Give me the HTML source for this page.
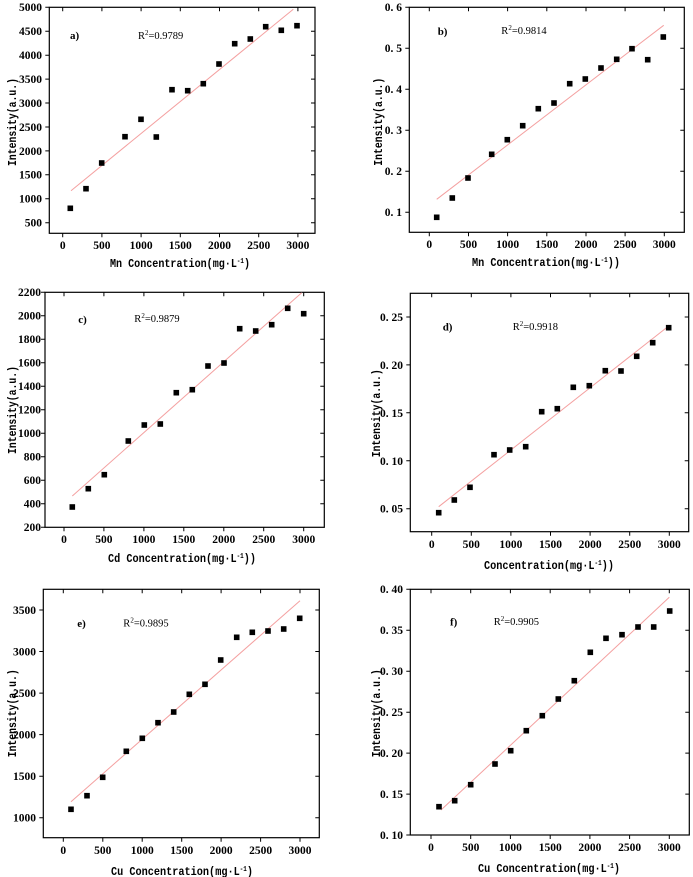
<!DOCTYPE html>
<html><head><meta charset="utf-8"><style>
html,body{margin:0;padding:0;background:#fff}
svg{display:block}
.t{font-family:"Liberation Serif",serif;font-weight:bold;font-size:11.5px;fill:#000;white-space:pre}
.ti{font-family:"Liberation Mono","Noto Sans CJK SC",monospace;font-size:12px;font-weight:bold;fill:#000}
.r{font-family:"Liberation Serif",serif;font-size:10.5px;fill:#000}
.lb{font-family:"Liberation Serif",serif;font-weight:bold;font-size:11px;fill:#000}
.bx{fill:none;stroke:#000;stroke-width:1.2}
.tk{stroke:#000;stroke-width:1}
.fl{stroke:#f4a0a0;stroke-width:1}
</style></head><body>
<svg width="693" height="877" viewBox="0 0 693 877" xmlns="http://www.w3.org/2000/svg">
<defs><rect id="s" x="-2.8" y="-2.8" width="5.6" height="5.6" fill="#000"/></defs>

<!-- Panel a -->
<rect class="bx" x="49.3" y="7.3" width="265.7" height="226"/>
<path class="tk" d="M45.3 7.3H49.3M45.3 31.3H49.3M45.3 55.2H49.3M45.3 79.1H49.3M45.3 103H49.3M45.3 127H49.3M45.3 150.9H49.3M45.3 174.8H49.3M45.3 198.8H49.3M45.3 222.7H49.3
M311 31.3H315M311 55.2H315M311 79.1H315M311 103H315M311 127H315M311 150.9H315M311 174.8H315M311 198.8H315M311 222.7H315
M62.7 233.3V237.3M101.9 233.3V237.3M141.1 233.3V237.3M180.3 233.3V237.3M219.5 233.3V237.3M258.7 233.3V237.3M297.9 233.3V237.3
M62.7 7.3V11.3M101.9 7.3V11.3M141.1 7.3V11.3M180.3 7.3V11.3M219.5 7.3V11.3M258.7 7.3V11.3M297.9 7.3V11.3"/>
<g class="t" text-anchor="end"><text x="42" y="11">5000</text><text x="42" y="35">4500</text><text x="42" y="59">4000</text><text x="42" y="83">3500</text><text x="42" y="107">3000</text><text x="42" y="131">2500</text><text x="42" y="155">2000</text><text x="42" y="178.5">1500</text><text x="42" y="202.5">1000</text><text x="42" y="226.5">500</text></g>
<g class="t" text-anchor="middle"><text x="62.7" y="249">0</text><text x="101.9" y="249">500</text><text x="141.1" y="249">1000</text><text x="180.3" y="249">1500</text><text x="219.5" y="249">2000</text><text x="258.7" y="249">2500</text><text x="297.9" y="249">3000</text></g>
<line class="fl" x1="71" y1="190.7" x2="293.3" y2="9.3"/>
<g><use href="#s" x="70.3" y="208.3"/><use href="#s" x="86" y="188.7"/><use href="#s" x="101.7" y="163"/><use href="#s" x="125" y="136.7"/><use href="#s" x="141" y="119.3"/><use href="#s" x="156.3" y="137"/><use href="#s" x="172" y="89.7"/><use href="#s" x="187.7" y="90.7"/><use href="#s" x="203.3" y="83.7"/><use href="#s" x="219" y="64"/><use href="#s" x="234.7" y="43.7"/><use href="#s" x="250.3" y="39"/><use href="#s" x="265.7" y="26.7"/><use href="#s" x="281.3" y="30.3"/><use href="#s" x="297" y="25.7"/></g>
<text class="lb" x="70" y="39">a)</text>
<text class="r" x="138" y="39">R<tspan dy="-4" font-size="7">2</tspan><tspan dy="4">=0.9789</tspan></text>
<text class="ti" x="110" y="267" textLength="140" lengthAdjust="spacingAndGlyphs">Mn Concentration(mg·L<tspan dy="-4" font-size="7">-1</tspan><tspan dy="4">)</tspan></text>
<text class="ti" transform="translate(16,122) rotate(-90)" text-anchor="middle" textLength="88" lengthAdjust="spacingAndGlyphs">Intensity(a.u.)</text>

<!-- Panel b -->
<rect class="bx" x="409.3" y="7.3" width="275" height="225"/>
<path class="tk" d="M405.3 7.3H409.3M405.3 48.3H409.3M405.3 89.3H409.3M405.3 130.3H409.3M405.3 171.3H409.3M405.3 212.3H409.3
M680.3 48.3H684.3M680.3 89.3H684.3M680.3 130.3H684.3M680.3 171.3H684.3M680.3 212.3H684.3
M429.3 232.3V236.3M468.5 232.3V236.3M507.6 232.3V236.3M546.8 232.3V236.3M586 232.3V236.3M625.1 232.3V236.3M664.3 232.3V236.3
M429.3 7.3V11.3M468.5 7.3V11.3M507.6 7.3V11.3M546.8 7.3V11.3M586 7.3V11.3M625.1 7.3V11.3M664.3 7.3V11.3"/>
<g class="t" text-anchor="end"><text x="402" y="11">0. 6</text><text x="402" y="52">0. 5</text><text x="402" y="93">0. 4</text><text x="402" y="134">0. 3</text><text x="402" y="175">0. 2</text><text x="402" y="216">0. 1</text></g>
<g class="t" text-anchor="middle"><text x="429.3" y="248">0</text><text x="468.5" y="248">500</text><text x="507.6" y="248">1000</text><text x="546.8" y="248">1500</text><text x="586" y="248">2000</text><text x="625.1" y="248">2500</text><text x="664.3" y="248">3000</text></g>
<line class="fl" x1="436.7" y1="199.3" x2="663.7" y2="25.3"/>
<g><use href="#s" x="436.7" y="217.3"/><use href="#s" x="452.3" y="198"/><use href="#s" x="468" y="178"/><use href="#s" x="491.7" y="154.3"/><use href="#s" x="507.3" y="139.7"/><use href="#s" x="522.7" y="125.7"/><use href="#s" x="538.3" y="108.7"/><use href="#s" x="554" y="103"/><use href="#s" x="569.7" y="83.7"/><use href="#s" x="585.3" y="79"/><use href="#s" x="601" y="68"/><use href="#s" x="616.7" y="59.3"/><use href="#s" x="632" y="48.7"/><use href="#s" x="647.7" y="59.7"/><use href="#s" x="663.3" y="37"/></g>
<text class="lb" x="437.7" y="35">b)</text>
<text class="r" x="501.3" y="34">R<tspan dy="-4" font-size="7">2</tspan><tspan dy="4">=0.9814</tspan></text>
<text class="ti" x="472" y="266" textLength="148" lengthAdjust="spacingAndGlyphs">Mn Concentration(mg·L<tspan dy="-4" font-size="7">-1</tspan><tspan dy="4">))</tspan></text>
<text class="ti" transform="translate(382,121.7) rotate(-90)" text-anchor="middle" textLength="88" lengthAdjust="spacingAndGlyphs">Intensity(a.u.)</text>

<!-- Panel c -->
<rect class="bx" x="45" y="292.3" width="279.3" height="235"/>
<path class="tk" d="M41 292.3H45M41 315.8H45M41 339.3H45M41 362.8H45M41 386.3H45M41 409.8H45M41 433.3H45M41 456.8H45M41 480.3H45M41 503.8H45M41 527.3H45
M320.3 315.8H324.3M320.3 339.3H324.3M320.3 362.8H324.3M320.3 386.3H324.3M320.3 409.8H324.3M320.3 433.3H324.3M320.3 456.8H324.3M320.3 480.3H324.3M320.3 503.8H324.3
M64 527.3V531.3M103.9 527.3V531.3M143.9 527.3V531.3M183.8 527.3V531.3M223.8 527.3V531.3M263.7 527.3V531.3M303.7 527.3V531.3
M64 292.3V296.3M103.9 292.3V296.3M143.9 292.3V296.3M183.8 292.3V296.3M223.8 292.3V296.3M263.7 292.3V296.3M303.7 292.3V296.3"/>
<g class="t" text-anchor="end"><text x="41" y="296">2200</text><text x="41" y="319.5">2000</text><text x="41" y="343">1800</text><text x="41" y="366.5">1600</text><text x="41" y="390">1400</text><text x="41" y="413.5">1200</text><text x="41" y="437">1000</text><text x="41" y="460.5">800</text><text x="41" y="484">600</text><text x="41" y="507.5">400</text><text x="41" y="531">200</text></g>
<g class="t" text-anchor="middle"><text x="64" y="543">0</text><text x="103.9" y="543">500</text><text x="143.9" y="543">1000</text><text x="183.8" y="543">1500</text><text x="223.8" y="543">2000</text><text x="263.7" y="543">2500</text><text x="303.7" y="543">3000</text></g>
<line class="fl" x1="72.3" y1="496" x2="301.7" y2="292.7"/>
<g><use href="#s" x="72.3" y="507"/><use href="#s" x="88.3" y="488.7"/><use href="#s" x="104.3" y="474.7"/><use href="#s" x="128.3" y="441"/><use href="#s" x="144.3" y="425"/><use href="#s" x="160.3" y="424"/><use href="#s" x="176.3" y="392.7"/><use href="#s" x="192.3" y="389.7"/><use href="#s" x="208" y="366"/><use href="#s" x="224" y="363"/><use href="#s" x="239.7" y="328.7"/><use href="#s" x="255.7" y="331"/><use href="#s" x="271.7" y="324.7"/><use href="#s" x="287.7" y="308.3"/><use href="#s" x="303.7" y="313.7"/></g>
<text class="lb" x="78.3" y="323">c)</text>
<text class="r" x="134.3" y="322">R<tspan dy="-4" font-size="7">2</tspan><tspan dy="4">=0.9879</tspan></text>
<text class="ti" x="108" y="562" textLength="148" lengthAdjust="spacingAndGlyphs">Cd Concentration(mg·L<tspan dy="-4" font-size="7">-1</tspan><tspan dy="4">))</tspan></text>
<text class="ti" transform="translate(16,410) rotate(-90)" text-anchor="middle" textLength="88" lengthAdjust="spacingAndGlyphs">Intensity(a.u.)</text>

<!-- Panel d -->
<rect class="bx" x="410.3" y="293.3" width="278.4" height="238.4"/>
<path class="tk" d="M406.3 317H410.3M406.3 364.9H410.3M406.3 412.8H410.3M406.3 460.8H410.3M406.3 508.7H410.3
M684.7 317H688.7M684.7 364.9H688.7M684.7 412.8H688.7M684.7 460.8H688.7M684.7 508.7H688.7
M431.7 531.7V535.7M471.3 531.7V535.7M510.9 531.7V535.7M550.5 531.7V535.7M590.1 531.7V535.7M629.7 531.7V535.7M669.3 531.7V535.7
M431.7 293.3V297.3M471.3 293.3V297.3M510.9 293.3V297.3M550.5 293.3V297.3M590.1 293.3V297.3M629.7 293.3V297.3M669.3 293.3V297.3"/>
<g class="t" text-anchor="end"><text x="403" y="321">0. 25</text><text x="403" y="369">0. 20</text><text x="403" y="417">0. 15</text><text x="403" y="465">0. 10</text><text x="403" y="512.5">0. 05</text></g>
<g class="t" text-anchor="middle"><text x="431.7" y="548">0</text><text x="471.3" y="548">500</text><text x="510.9" y="548">1000</text><text x="550.5" y="548">1500</text><text x="590.1" y="548">2000</text><text x="629.7" y="548">2500</text><text x="669.3" y="548">3000</text></g>
<line class="fl" x1="438.7" y1="506.7" x2="668.7" y2="326"/>
<g><use href="#s" x="438.7" y="512.7"/><use href="#s" x="454.3" y="500"/><use href="#s" x="470" y="487.3"/><use href="#s" x="494" y="454.7"/><use href="#s" x="509.7" y="450"/><use href="#s" x="525.7" y="446.7"/><use href="#s" x="541.7" y="411.7"/><use href="#s" x="557.3" y="408.7"/><use href="#s" x="573.3" y="387.3"/><use href="#s" x="589.3" y="385.7"/><use href="#s" x="605.3" y="370.7"/><use href="#s" x="621" y="371"/><use href="#s" x="636.7" y="356.3"/><use href="#s" x="652.7" y="342.7"/><use href="#s" x="668.7" y="327.7"/></g>
<text class="lb" x="442.7" y="330.5">d)</text>
<text class="r" x="512.7" y="330">R<tspan dy="-4" font-size="7">2</tspan><tspan dy="4">=0.9918</tspan></text>
<text class="ti" x="484" y="569" textLength="130" lengthAdjust="spacingAndGlyphs">Concentration(mg·L<tspan dy="-4" font-size="7">-1</tspan><tspan dy="4">))</tspan></text>
<text class="ti" transform="translate(380,413.3) rotate(-90)" text-anchor="middle" textLength="88" lengthAdjust="spacingAndGlyphs">Intensity(a.u.)</text>

<!-- Panel e -->
<rect class="bx" x="43.3" y="589.3" width="276" height="248.4"/>
<path class="tk" d="M39.3 610H43.3M39.3 651.5H43.3M39.3 693.1H43.3M39.3 734.6H43.3M39.3 776.2H43.3M39.3 817.7H43.3
M315.3 610H319.3M315.3 651.5H319.3M315.3 693.1H319.3M315.3 734.6H319.3M315.3 776.2H319.3M315.3 817.7H319.3
M63.3 837.7V841.7M102.8 837.7V841.7M142.2 837.7V841.7M181.7 837.7V841.7M221.1 837.7V841.7M260.6 837.7V841.7M300 837.7V841.7
M63.3 589.3V593.3M102.8 589.3V593.3M142.2 589.3V593.3M181.7 589.3V593.3M221.1 589.3V593.3M260.6 589.3V593.3M300 589.3V593.3"/>
<g class="t" text-anchor="end"><text x="36" y="614">3500</text><text x="36" y="655.5">3000</text><text x="36" y="697">2500</text><text x="36" y="738.5">2000</text><text x="36" y="780">1500</text><text x="36" y="821.5">1000</text></g>
<g class="t" text-anchor="middle"><text x="63.3" y="854">0</text><text x="102.8" y="854">500</text><text x="142.2" y="854">1000</text><text x="181.7" y="854">1500</text><text x="221.1" y="854">2000</text><text x="260.6" y="854">2500</text><text x="300" y="854">3000</text></g>
<line class="fl" x1="71" y1="801.7" x2="300" y2="600.7"/>
<g><use href="#s" x="71" y="809.3"/><use href="#s" x="87" y="795.7"/><use href="#s" x="102.7" y="777.3"/><use href="#s" x="126.3" y="751.3"/><use href="#s" x="142.3" y="738.3"/><use href="#s" x="158" y="722.7"/><use href="#s" x="173.7" y="712"/><use href="#s" x="189.3" y="694.3"/><use href="#s" x="205" y="684.3"/><use href="#s" x="220.7" y="660"/><use href="#s" x="236.7" y="637.3"/><use href="#s" x="252.3" y="632.3"/><use href="#s" x="268" y="631"/><use href="#s" x="283.7" y="629"/><use href="#s" x="299.7" y="618.3"/></g>
<text class="lb" x="77.3" y="627">e)</text>
<text class="r" x="123.3" y="626.5">R<tspan dy="-4" font-size="7">2</tspan><tspan dy="4">=0.9895</tspan></text>
<text class="ti" x="111" y="875" textLength="142" lengthAdjust="spacingAndGlyphs">Cu Concentration(mg·L<tspan dy="-4" font-size="7">-1</tspan><tspan dy="4">)</tspan></text>
<text class="ti" transform="translate(16,713.3) rotate(-90)" text-anchor="middle" textLength="88" lengthAdjust="spacingAndGlyphs">Intensity(a.u.)</text>

<!-- Panel f -->
<rect class="bx" x="410.3" y="589.3" width="279" height="245.7"/>
<path class="tk" d="M406.3 589.3H410.3M406.3 630.3H410.3M406.3 671.2H410.3M406.3 712.2H410.3M406.3 753.1H410.3M406.3 794.1H410.3M406.3 835H410.3
M685.3 630.3H689.3M685.3 671.2H689.3M685.3 712.2H689.3M685.3 753.1H689.3M685.3 794.1H689.3
M431 835V839M470.7 835V839M510.4 835V839M550.2 835V839M589.9 835V839M629.6 835V839M669.3 835V839
M431 589.3V593.3M470.7 589.3V593.3M510.4 589.3V593.3M550.2 589.3V593.3M589.9 589.3V593.3M629.6 589.3V593.3M669.3 589.3V593.3"/>
<g class="t" text-anchor="end"><text x="403" y="593">0. 40</text><text x="403" y="634">0. 35</text><text x="403" y="675">0. 30</text><text x="403" y="716">0. 25</text><text x="403" y="757">0. 20</text><text x="403" y="798">0. 15</text><text x="403" y="839">0. 10</text></g>
<g class="t" text-anchor="middle"><text x="431" y="851">0</text><text x="470.7" y="851">500</text><text x="510.4" y="851">1000</text><text x="550.2" y="851">1500</text><text x="589.9" y="851">2000</text><text x="629.6" y="851">2500</text><text x="669.3" y="851">3000</text></g>
<line class="fl" x1="441" y1="810" x2="669.3" y2="597.3"/>
<g><use href="#s" x="439" y="806.7"/><use href="#s" x="454.7" y="800.7"/><use href="#s" x="470.7" y="784.7"/><use href="#s" x="495" y="764"/><use href="#s" x="510.7" y="750.7"/><use href="#s" x="526.3" y="730.7"/><use href="#s" x="542.3" y="715.7"/><use href="#s" x="558.3" y="699"/><use href="#s" x="574.3" y="680.7"/><use href="#s" x="590.3" y="652.3"/><use href="#s" x="606" y="638.3"/><use href="#s" x="622" y="634.7"/><use href="#s" x="638" y="627"/><use href="#s" x="653.7" y="627"/><use href="#s" x="669.7" y="611"/></g>
<text class="lb" x="450" y="625.5">f)</text>
<text class="r" x="493.7" y="625">R<tspan dy="-4" font-size="7">2</tspan><tspan dy="4">=0.9905</tspan></text>
<text class="ti" x="478" y="872" textLength="142" lengthAdjust="spacingAndGlyphs">Cu Concentration(mg·L<tspan dy="-4" font-size="7">-1</tspan><tspan dy="4">)</tspan></text>
<text class="ti" transform="translate(380,713.3) rotate(-90)" text-anchor="middle" textLength="88" lengthAdjust="spacingAndGlyphs">Intensity(a.u.)</text>
</svg>
</body></html>
